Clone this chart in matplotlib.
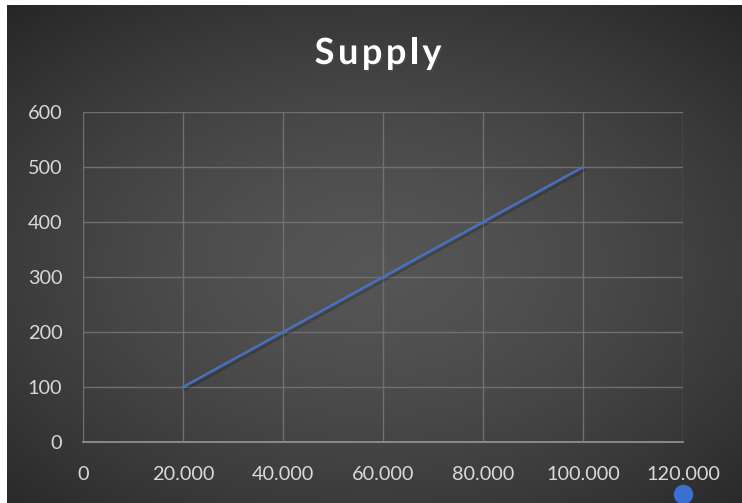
import numpy as np
import matplotlib.pyplot as plt
import matplotlib.patheffects as pe

# data
x_vals = [20, 40, 60, 80, 100]
supply = [100, 200, 300, 400, 500]
x_ticks = [0, 20, 40, 60, 80, 100, 120]
x_labels = ['0', '20.000', '40.000', '60.000', '80.000', '100.000', '120.000']
y_ticks = [0, 100, 200, 300, 400, 500, 600]
handle_x = [120]
handle_y = [-95]
title = 'Supply'

fig = plt.figure(figsize=(7.42, 5.03), dpi=100, facecolor='white')

# dark radial gradient background
bg = fig.add_axes([7/742, 0, 1 - 7/742, 1 - 5/503])
gx, gy = np.meshgrid(np.linspace(-1, 1, 400), np.linspace(-1, 1, 300))
r = np.sqrt((gx / 1.05) ** 2 + ((gy + 0.05) / 1.0) ** 2)
shade = np.clip(0.335 - 0.11 * r ** 1.5, 0.15, 0.34)
bg.imshow(np.dstack([shade] * 3), extent=[0, 1, 0, 1], aspect='auto', origin='lower')
bg.axis('off')

ax = fig.add_axes([83/742, 1 - 442/503, 600/742, 330/503])
ax.patch.set_alpha(0)
ax.plot(x_vals, supply, color='#4472c4', lw=1.7, solid_capstyle='round',
        path_effects=[pe.SimpleLineShadow(offset=(1.5, -2), alpha=0.2), pe.Normal()])
ax.plot(handle_x, handle_y, 'o', color='#3b6fd1', ms=13, clip_on=False, zorder=5)

ax.set_xlim(0, 120)
ax.set_ylim(0, 600)
ax.set_xticks(x_ticks)
ax.set_xticklabels(x_labels)
ax.set_yticks(y_ticks)
ax.grid(True, color='#707070', lw=1)
ax.set_axisbelow(True)
for s in ['top', 'right', 'left']:
    ax.spines[s].set_visible(False)
ax.spines['bottom'].set_color('#8f8f8f')
ax.spines['bottom'].set_linewidth(1.3)
ax.tick_params(length=0, colors='#d9d9d9', labelsize=14.3)
ax.tick_params(axis='x', pad=17)
ax.tick_params(axis='y', pad=15)
for lab in ax.get_xticklabels() + ax.get_yticklabels():
    lab.set_fontfamily('Lato')

# letter-spaced title
fig.canvas.draw()
renderer = fig.canvas.get_renderer()
spacing = 3.5
pieces = []
total = 0
for ch in title:
    t = fig.text(0, 0, ch, fontsize=26, fontweight='bold', fontfamily='Lato')
    w = t.get_window_extent(renderer).width
    t.remove()
    pieces.append((ch, w))
    total += w
total += spacing * (len(title) - 1)
x0 = 378 - total / 2
for ch, w in pieces:
    fig.text(x0 / 742, 1 - 64 / 503, ch, color='white', fontsize=26, fontweight='bold',
             fontfamily='Lato', ha='left', va='baseline',
             path_effects=[pe.withSimplePatchShadow(offset=(1.2, -1.5), alpha=0.45)])
    x0 += w + spacing

fig.savefig('out.png', dpi=100, facecolor='white')
